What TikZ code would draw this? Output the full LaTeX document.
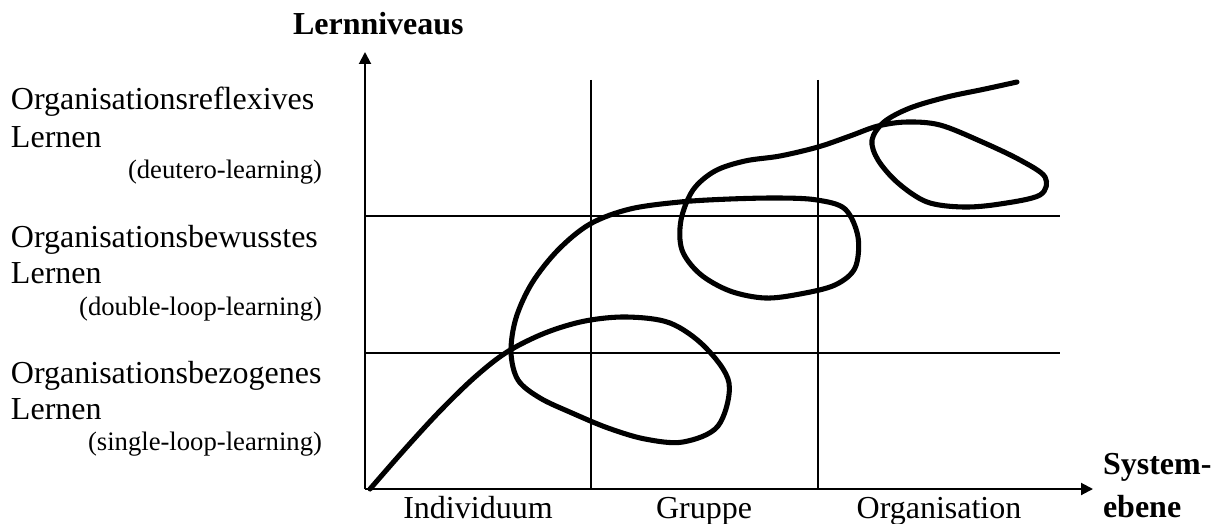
\documentclass[tikz,border=0pt]{standalone}
\usepackage{fontspec}
\setmainfont{Liberation Serif}
\usetikzlibrary{arrows.meta, positioning}
\tikzset{
  every picture/.style={line width=1.5pt},
  axisline/.style={-{Triangle[length=9pt, width=9pt]}, line width=1.5pt},
  gridline/.style={line width=1.5pt},
  lcurve/.style={line width=3.8pt, line join=round, line cap=round},
  lvtext/.style={font=\fontsize{24}{28}\selectfont, anchor=base west, inner sep=0pt},
  subtext/.style={font=\fontsize{20}{24}\selectfont, anchor=base east, inner sep=0pt},
  unittext/.style={font=\fontsize{24}{28}\selectfont, anchor=base, inner sep=0pt},
  axtitle/.style={font=\fontsize{24}{32}\selectfont\bfseries, anchor=base west, inner sep=0pt, align=left},
}

\begin{document}
\begin{tikzpicture}[x=0.75pt, y=-0.75pt]
  \useasboundingbox (0,0) rectangle (1216,524);
  % axes
  \coordinate (origin) at (365,489);
  \coordinate (ytop) at (365,52);
  \coordinate (xend) at (1093,489);
  \draw[axisline] (origin) -- (ytop);
  \draw[axisline] (origin) -- (xend);
  \node[axtitle] (ytitle) at (292,35) {Lernniveaus};
  \node[axtitle] (xtitle) at (1102,517) {System-\\ebene};

  % grid
  \foreach \gx in {591,818}
    \draw[gridline] (\gx,80) -- (\gx,489);
  \foreach \gy in {216,353}
    \draw[gridline] (365,\gy) -- (1060,\gy);

  % levels
  \node[lvtext] (lvA) at (10,110) {Organisationsreflexives};
  \node[lvtext] (lvAl) at (10,147) {Lernen};
  \node[subtext] (lvAs) at (323,178) {(deutero-learning)};
  \node[lvtext] (lvB) at (10,247) {Organisationsbewusstes};
  \node[lvtext] (lvBl) at (10,283) {Lernen};
  \node[subtext] (lvBs) at (323,315) {(double-loop-learning)};
  \node[lvtext] (lvC) at (10,383) {Organisationsbezogenes};
  \node[lvtext] (lvCl) at (10,419) {Lernen};
  \node[subtext] (lvCs) at (323,450) {(single-loop-learning)};

  % system levels
  \node[unittext] (ind) at (478,518) {Individuum};
  \node[unittext] (grp) at (704,518) {Gruppe};
  \node[unittext] (org) at (939,518) {Organisation};

  % learning curve
  \draw[lcurve] plot[smooth, tension=0.55] coordinates {
    (370,489) (405,449) (440,411) (475,377) (507,352) (545,333) (585,321)
    (627,317) (670,323) (705,347) (729,383) (718,426) (683,442) (645,439)
    (608,428) (572,413) (540,398) (518,380) (511,352) (516,318) (532,283)
    (558,250) (590,224) (630,209) (680,202) (730,199) (780,198) (817,200)
    (845,209) (858,237) (855,268) (835,285) (800,294) (765,298) (730,291)
    (700,274) (682,250) (681,220) (693,190) (715,171) (745,161) (780,156)
    (818,147) (850,136) (878,126) (907,122) (940,125) (980,141) (1020,160)
    (1045,177) (1040,195) (1000,204) (963,207) (927,202) (898,183)
    (878,160) (872,140) (884,122) (910,108) (947,97) (985,89) (1017,82)};
\end{tikzpicture}
\end{document}
